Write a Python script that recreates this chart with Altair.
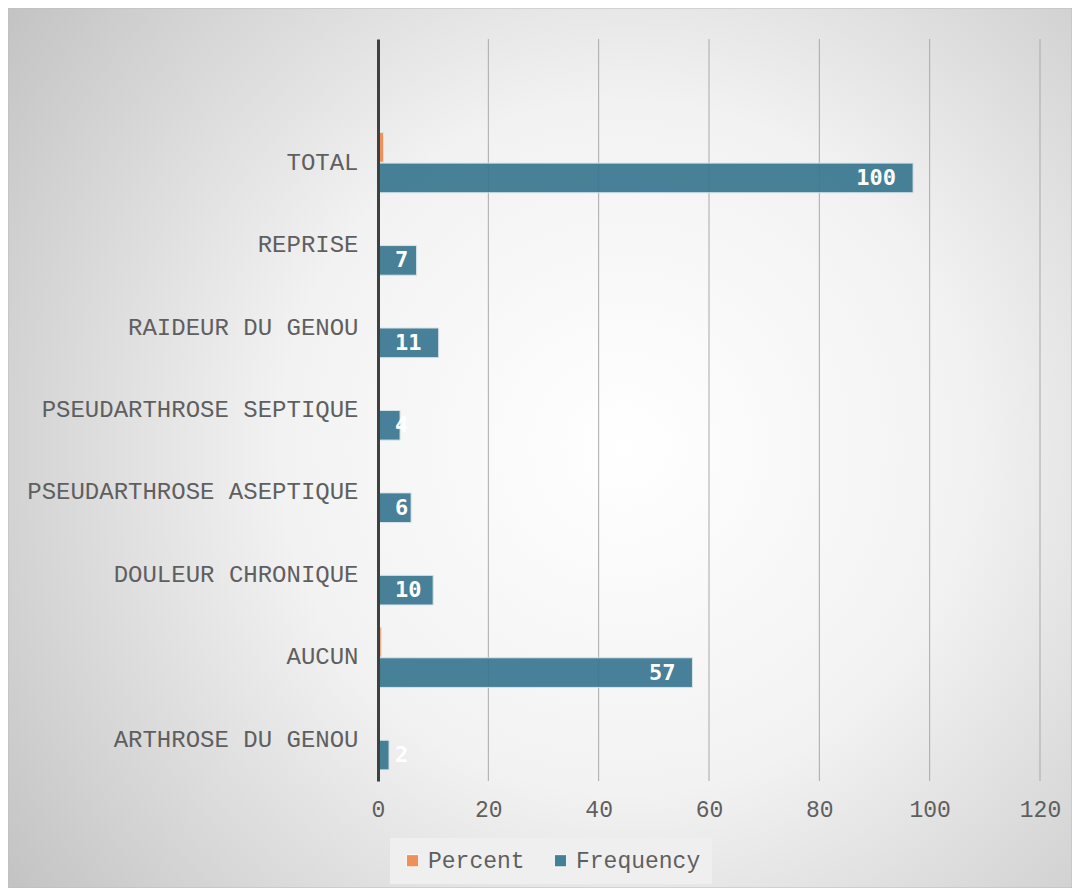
import altair as alt
import pandas as pd

categories = ["ARTHROSE DU GENOU", "AUCUN", "DOULEUR CHRONIQUE", "PSEUDARTHROSE ASEPTIQUE",
              "PSEUDARTHROSE SEPTIQUE", "RAIDEUR DU GENOU", "REPRISE", "TOTAL"]
frequency = [2, 57, 10, 6, 4, 11, 7, 97]
frequency_labels = ["2", "57", "10", "6", "4", "11", "7", "100"]
percent = [0.02, 0.57, 0.10, 0.06, 0.04, 0.11, 0.07, 1.00]
series = ["Percent", "Frequency"]
series_colors = ["#ee8a4e", "#3a7891"]
x_ticks = [0, 20, 40, 60, 80, 100, 120]

rows = []
for c, f, fl, p in zip(categories, frequency, frequency_labels, percent):
    rows.append({"cat": c, "series": "Percent", "value": p, "label": ""})
    rows.append({"cat": c, "series": "Frequency", "value": f, "label": fl})
df = pd.DataFrame(rows)

y_domain = [""] + categories[::-1]
FONT = "Liberation Mono"
GREY = "#5f5f5f"

y_enc = alt.Y("cat:N", sort=y_domain,
              scale=alt.Scale(domain=y_domain, paddingInner=0.27, paddingOuter=0.135),
              axis=alt.Axis(title=None, ticks=False, domain=True, domainColor="#404040",
                            domainWidth=3, labelFont=FONT, labelFontSize=24,
                            labelColor=GREY, labelPadding=20, zindex=1, grid=False,
                            labelLimit=500))
x_enc = alt.X("value:Q", scale=alt.Scale(domain=[0, 120], nice=False),
              axis=alt.Axis(title=None, values=x_ticks, grid=False, ticks=False, domain=False,
                            labelFont=FONT, labelFontSize=23, labelColor=GREY,
                            labelPadding=17, zindex=1, labelFlush=False))
yoff = alt.YOffset("series:N", sort=series,
                   scale=alt.Scale(domain=series, paddingInner=0.03))

bg = alt.Chart(alt.Data(values=[{"a": 1}])).mark_rect(
    fill={"gradient": "radial", "x1": 0.58, "y1": 0.5, "r1": 0,
          "x2": 0.58, "y2": 0.5, "r2": 0.72,
          "stops": [{"offset": 0, "color": "#ffffff"},
                    {"offset": 0.45, "color": "#f2f2f2"},
                    {"offset": 1, "color": "#c2c2c2"}]},
    stroke="#bdbdbd", strokeWidth=1
).encode(x=alt.value(-370), x2=alt.value(694), y=alt.value(-31), y2=alt.value(849))

grid = alt.Chart(pd.DataFrame({"t": x_ticks[1:]})).mark_rule(
    color="#a9a9a9", strokeWidth=1
).encode(x=alt.X("t:Q", scale=alt.Scale(domain=[0, 120], nice=False)))

bars = alt.Chart(df).mark_bar(opacity=0.93, stroke="#d6e3ea", strokeWidth=1).encode(
    y=y_enc, x=x_enc, yOffset=yoff,
    color=alt.Color("series:N", sort=series,
                    scale=alt.Scale(domain=series, range=series_colors),
                    legend=alt.Legend(title=None, orient="none", direction="horizontal",
                                      legendX=12, legendY=799, fillColor="#efefef",
                                      padding=11, labelFont=FONT, labelFontSize=23,
                                      labelColor=GREY, symbolType="square", symbolSize=150,
                                      symbolStrokeColor="#ffffff", symbolStrokeWidth=1,
                                      symbolOpacity=0.93,
                                      labelOffset=4, columnPadding=24))
)

freq_df = df[df["series"] == "Frequency"]
lab_big = alt.Chart(freq_df).transform_filter("datum.value >= 20").mark_text(
    align="right", baseline="middle", dx=-17, font="DejaVu Sans Mono", fontWeight="bold",
    fontSize=22, color="#ffffff"
).encode(y=alt.Y("cat:N", sort=y_domain), x=alt.X("value:Q"), yOffset=yoff, text="label:N")

lab_small = alt.Chart(freq_df).transform_filter("datum.value < 20").mark_text(
    align="left", baseline="middle", dx=17, font="DejaVu Sans Mono", fontWeight="bold",
    fontSize=22, color="#ffffff"
).encode(y=alt.Y("cat:N", sort=y_domain), x=alt.datum(0), yOffset=yoff, text="label:N")

chart = alt.layer(bg, grid, bars, lab_big, lab_small).properties(
    width=662, height=742,
    autosize=alt.AutoSizeParams(type="none"),
    padding={"left": 370, "top": 31, "right": 32, "bottom": 107},
    background="#ffffff"
).configure_view(strokeWidth=0)

chart.save("out.html", embed_options={"renderer": "svg", "actions": False})
